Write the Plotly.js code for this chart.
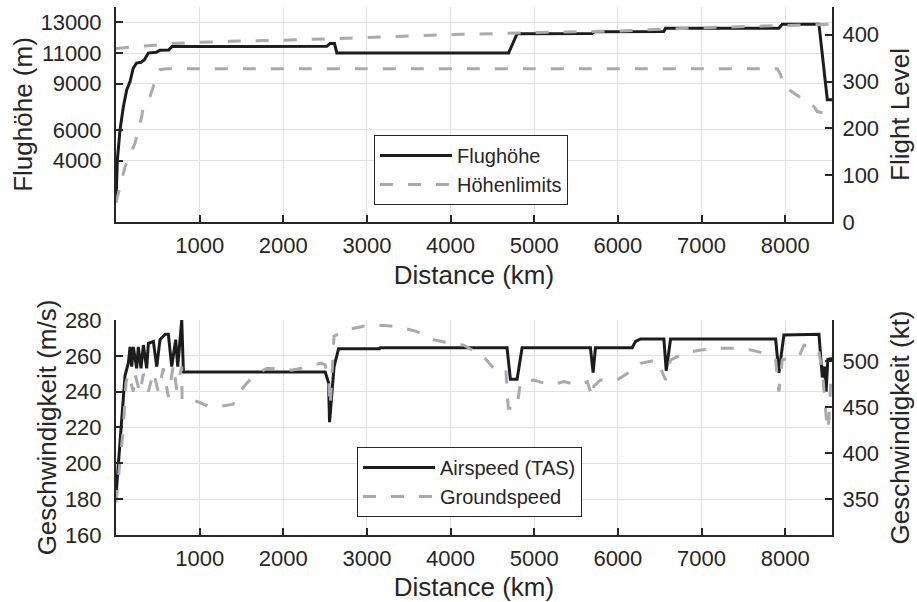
<!DOCTYPE html>
<html>
<head>
<meta charset="utf-8">
<script src="https://cdn.plot.ly/plotly-3.0.1.min.js"></script>
<style>
  html, body { margin: 0; padding: 0; background: #fff; }
  #chart { width: 917px; height: 602px; }
</style>
</head>
<body>
<div id="chart"></div>
<script>
// ---------- DATA ----------
// Top panel: flight altitude (m) along distance (km)
var altDist = [0, 16, 48, 88, 128, 168, 205, 245, 300, 340, 385, 480, 525, 630, 668, 2520, 2560, 2612, 2640, 4694, 4795, 5692, 5710, 6549, 6569, 7925, 7965, 8404, 8504, 8560];
var altM    = [1300, 4030, 6000, 7500, 8600, 9150, 10000, 10350, 10400, 10560, 11000, 11050, 11180, 11200, 11420, 11440, 11630, 11630, 11010, 11010, 12260, 12270, 12390, 12400, 12610, 12620, 12870, 12870, 7960, 7960];

// Upper altitude limit (m)
var upperDist = [0, 330, 670, 1000, 1360, 2000, 3000, 4000, 5000, 6000, 7000, 8000, 8560];
var upperM    = [11300, 11440, 11620, 11700, 11765, 11830, 12030, 12200, 12330, 12440, 12650, 12820, 12880];

// Lower altitude limit (m)
var lowerDist = [0, 108, 227, 307, 327, 407, 467, 526, 600, 7906, 7946, 7985, 8224, 8344, 8384, 8560];
var lowerM    = [1250, 3600, 5120, 6860, 7520, 8170, 9150, 9920, 9980, 9980, 9590, 8820, 7950, 7520, 7190, 6970];

// Bottom panel: true airspeed (m/s)
var tasDist = [0, 108, 148, 168, 188, 207, 247, 267, 299, 327, 367, 387, 447, 487, 526, 587, 626, 666, 714, 738, 786, 806, 2501, 2541, 2553, 2607, 2661, 3150, 3160, 4675, 4715, 4795, 4855, 5672, 5704, 5732, 6171, 6211, 6271, 6550, 6578, 6630, 7886, 7925, 7985, 8170, 8180, 8404, 8444, 8470, 8490, 8510, 8560];
var tasMs   = [182, 249, 256, 265, 254, 265, 253, 265, 253, 266, 253, 267, 268, 254, 269, 272, 272, 254, 269, 254, 280, 251, 251, 245, 223, 254, 264, 264, 264.5, 264.5, 247, 247, 264.5, 264.5, 250.6, 264.5, 264.5, 268, 269.4, 269.4, 251.7, 269.4, 269.4, 250.6, 271.6, 271.6, 272, 272, 248, 254, 240, 258, 258.6];

// Bottom panel: groundspeed (m/s)
var gsDist = [0, 88, 120, 148, 207, 227, 287, 327, 387, 447, 506, 566, 626, 686, 726, 786, 790, 945, 1100, 1265, 1400, 1500, 1550, 1650, 1800, 2000, 2100, 2300, 2450, 2500, 2541, 2561, 2607, 2760, 3000, 3200, 3400, 3600, 3800, 4000, 4156, 4395, 4515, 4660, 4675, 4690, 4795, 4815, 4835, 4995, 5195, 5355, 5515, 5635, 5692, 5712, 5792, 5992, 6171, 6271, 6471, 6570, 6630, 6790, 6990, 7190, 7390, 7590, 7750, 7886, 7925, 7965, 8105, 8165, 8225, 8345, 8404, 8444, 8464, 8484, 8504, 8524, 8544];
var gsMs   = [178, 220, 245, 250, 240, 250, 239, 250, 240, 251, 240, 253, 237, 255, 241, 254, 235, 235, 232, 232, 233, 241, 244, 249, 253, 253, 252, 254, 256, 255, 247, 232, 271, 274.5, 277, 277, 276, 273.5, 269, 267, 266, 259.5, 253, 253, 241, 230.7, 230.7, 240, 245.6, 246.5, 243.7, 245.6, 243.7, 245.6, 237, 243, 246.5, 246.5, 252, 255.8, 257.7, 246.5, 257.7, 261.4, 263.3, 264.2, 264.2, 263.3, 261.4, 257.7, 240, 257.7, 259.5, 259.5, 266, 265, 262, 252, 241, 230, 218.6, 224, 245];

// Tick values / labels
var xTicks      = [1000, 2000, 3000, 4000, 5000, 6000, 7000, 8000];
var altTicks    = [4000, 6000, 9000, 11000, 13000];
var flTicks     = [0, 100, 200, 300, 400];
var msTicks     = [160, 180, 200, 220, 240, 260, 280];
var ktTicks     = [350, 400, 450, 500];

// Axis limits
var xMax = 8560;
var altMax = 14000;          // m
var msMin = 160, msMax = 280; // m/s
var M_PER_FL = 30.48;
var KT_PER_MS = 1.943844;

// ---------- STYLE ----------
var FONT = '"Liberation Sans", Arial, Helvetica, sans-serif';
var TXT = '#262626';
var BLACK = '#1c1c1c';
var GRAY = '#a9a9b1';
var GRID = '#e2e2e2';
var DASH = '13px,15px';

var traces = [
  {x: altDist, y: altM, xaxis: 'x', yaxis: 'y', type: 'scatter', mode: 'lines',
   name: 'Flughöhe', legend: 'legend', line: {color: BLACK, width: 3}},
  {x: upperDist, y: upperM, xaxis: 'x', yaxis: 'y', type: 'scatter', mode: 'lines',
   name: 'Höhenlimits', legend: 'legend', legendgroup: 'lim',
   line: {color: GRAY, width: 3, dash: DASH}},
  {x: lowerDist, y: lowerM, xaxis: 'x', yaxis: 'y', type: 'scatter', mode: 'lines',
   name: 'Höhenlimits', legend: 'legend', legendgroup: 'lim', showlegend: false,
   line: {color: GRAY, width: 3, dash: DASH}},
  {x: [], y: [], xaxis: 'x', yaxis: 'y2', type: 'scatter', mode: 'lines', showlegend: false, hoverinfo: 'skip'},
  {x: tasDist, y: tasMs, xaxis: 'x2', yaxis: 'y3', type: 'scatter', mode: 'lines',
   name: 'Airspeed (TAS)', legend: 'legend2', line: {color: BLACK, width: 3}},
  {x: gsDist, y: gsMs, xaxis: 'x2', yaxis: 'y3', type: 'scatter', mode: 'lines',
   name: 'Groundspeed', legend: 'legend2', line: {color: GRAY, width: 3, dash: DASH}},
  {x: [], y: [], xaxis: 'x2', yaxis: 'y4', type: 'scatter', mode: 'lines', showlegend: false, hoverinfo: 'skip'}
];

function xAxis(anchor) {
  return {
    anchor: anchor, domain: [0, 1], range: [0, xMax],
    tickmode: 'array', tickvals: xTicks, ticktext: xTicks.map(String),
    ticks: 'inside', ticklen: 7, tickwidth: 2, tickcolor: TXT,
    showline: true, linecolor: TXT, linewidth: 2, mirror: false,
    showgrid: true, gridcolor: GRID, gridwidth: 1, zeroline: false,
    tickfont: {family: FONT, size: 22, color: TXT}, ticklabelstandoff: 3,
    title: {text: 'Distance (km)', font: {family: FONT, size: 26, color: TXT}, standoff: 8},
    automargin: false
  };
}
function yAxis(opts) {
  var a = {
    ticks: 'inside', ticklen: 7, tickwidth: 2, tickcolor: TXT,
    showline: true, linecolor: TXT, linewidth: 2,
    zeroline: false, tickmode: 'array',
    tickfont: {family: FONT, size: 22, color: TXT},
    automargin: false
  };
  for (var k in opts) a[k] = opts[k];
  return a;
}

var layout = {
  width: 917, height: 602,
  margin: {l: 116, r: 85, t: 7, b: 67, pad: 0},
  paper_bgcolor: '#ffffff', plot_bgcolor: '#ffffff',
  font: {family: FONT, color: TXT},
  showlegend: true,
  xaxis: xAxis('y'),
  xaxis2: xAxis('y3'),
  yaxis: yAxis({
    domain: [0.5928, 1], anchor: 'x', range: [0, altMax],
    tickvals: altTicks, ticktext: altTicks.map(String),
    showgrid: true, gridcolor: GRID, gridwidth: 1, ticklabelstandoff: 8,
    title: {text: 'Flughöhe (m)', font: {family: FONT, size: 26, color: TXT}, standoff: 0}
  }),
  yaxis2: yAxis({
    overlaying: 'y', side: 'right', anchor: 'x', range: [0, altMax / M_PER_FL],
    tickvals: flTicks, ticktext: flTicks.map(String), showgrid: false, ticklabelstandoff: 4,
    title: {text: 'Flight Level', font: {family: FONT, size: 26, color: TXT}, standoff: 13}
  }),
  yaxis3: yAxis({
    domain: [0, 0.4072], anchor: 'x2', range: [msMin, msMax],
    tickvals: msTicks, ticktext: msTicks.map(String),
    showgrid: true, gridcolor: GRID, gridwidth: 1, ticklabelstandoff: 8,
    title: {text: 'Geschwindigkeit (m/s)', font: {family: FONT, size: 26, color: TXT}, standoff: 1}
  }),
  yaxis4: yAxis({
    overlaying: 'y3', side: 'right', anchor: 'x2',
    range: [msMin * KT_PER_MS, msMax * KT_PER_MS],
    tickvals: ktTicks, ticktext: ktTicks.map(String), showgrid: false, ticklabelstandoff: 4,
    title: {text: 'Geschwindigkeit (kt)', font: {family: FONT, size: 26, color: TXT}, standoff: 13}
  }),
  legend: {
    x: 0.3603, y: 0.7576, xanchor: 'left', yanchor: 'top',
    bgcolor: '#ffffff', bordercolor: TXT, borderwidth: 1,
    font: {family: FONT, size: 20, color: TXT}, itemwidth: 72, tracegroupgap: 0
  },
  legend2: {
    x: 0.3366, y: 0.1665, xanchor: 'left', yanchor: 'top',
    bgcolor: '#ffffff', bordercolor: TXT, borderwidth: 1,
    font: {family: FONT, size: 20, color: TXT}, itemwidth: 72, tracegroupgap: 0
  }
};

Plotly.newPlot('chart', traces, layout, {displayModeBar: false, staticPlot: true});
</script>
</body>
</html>
